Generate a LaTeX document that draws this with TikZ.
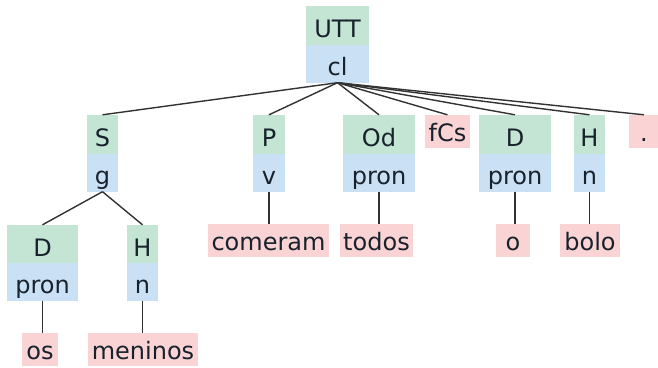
\documentclass[tikz,border=0pt]{standalone}
\usepackage{fontspec}
\setmainfont{DejaVu Sans}
\definecolor{catg}{RGB}{196,229,211}
\definecolor{clsb}{RGB}{202,224,244}
\definecolor{wordp}{RGB}{250,212,212}
\definecolor{txt}{RGB}{24,34,44}
\definecolor{edge}{RGB}{50,50,50}
\tikzset{
  base/.style={inner sep=0pt, text=txt, font=\fontsize{24}{24}\selectfont, text depth=7pt},
  fn/.style={base, fill=catg, text height=31pt, text depth=8pt, minimum width=#1},
  cls/.style={base, fill=clsb, text height=31pt, minimum width=#1},
  wd/.style={base, fill=wordp, text height=26pt, minimum width=#1},
  link/.style={draw=edge, line width=1.4pt}
}
\begin{document}
\begin{tikzpicture}[x=1pt,y=-1pt]
\useasboundingbox (0,0) rectangle (658,367);
% root
\node[fn=63pt] (utt) at (337.5,25.5) {UTT};
\node[cls=63pt] (cl) at (337.5,63.5) {cl};
% S
\node[fn=31pt] (S) at (102.5,134.5) {S};
\node[cls=31pt] (g) at (102.5,172.5) {g};
\node[fn=71pt] (D1) at (42.5,244.5) {D};
\node[cls=71pt] (pron1) at (42.5,281.5) {pron};
\node[fn=31pt] (H1) at (142.5,244.5) {H};
\node[cls=31pt] (n1) at (142.5,281.5) {n};
\node[wd=36pt] (os) at (40,349.5) {os};
\node[wd=110pt] (meninos) at (143,349.5) {meninos};
% P
\node[fn=32pt] (P) at (269,134.5) {P};
\node[cls=32pt] (v) at (269,172.5) {v};
\node[wd=121pt] (comeram) at (268.5,240.5) {comeram};
% Od
\node[fn=72pt] (Od) at (379,134.5) {Od};
\node[cls=72pt] (pron2) at (379,172.5) {pron};
\node[wd=73pt] (todos) at (376.5,240.5) {todos};
% fCs
\node[wd=45pt] (fCs) at (447.5,131.5) {fCs};
% D
\node[fn=72pt] (D2) at (515,134.5) {D};
\node[cls=72pt] (pron3) at (515,172.5) {pron};
\node[wd=34pt] (o) at (513,240.5) {o};
% H
\node[fn=31pt] (H2) at (589.5,134.5) {H};
\node[cls=31pt] (n2) at (589.5,172.5) {n};
\node[wd=60pt] (bolo) at (590,240.5) {bolo};
% period
\node[wd=30pt] (dot) at (644,131.5) {.};
% connectors
\foreach \c in {S,P,Od,fCs,D2,H2,dot}
  \draw[link] (cl.south) -- (\c.north);
\draw[link] (g.south) -- (D1.north);
\draw[link] (g.south) -- (H1.north);
\draw[link] (pron1.south) -- (pron1.south |- os.north);
\draw[link] (n1.south) -- (n1.south |- meninos.north);
\draw[link] (v.south) -- (v.south |- comeram.north);
\draw[link] (pron2.south) -- (pron2.south |- todos.north);
\draw[link] (pron3.south) -- (pron3.south |- o.north);
\draw[link] (n2.south) -- (n2.south |- bolo.north);
\end{tikzpicture}
\end{document}
